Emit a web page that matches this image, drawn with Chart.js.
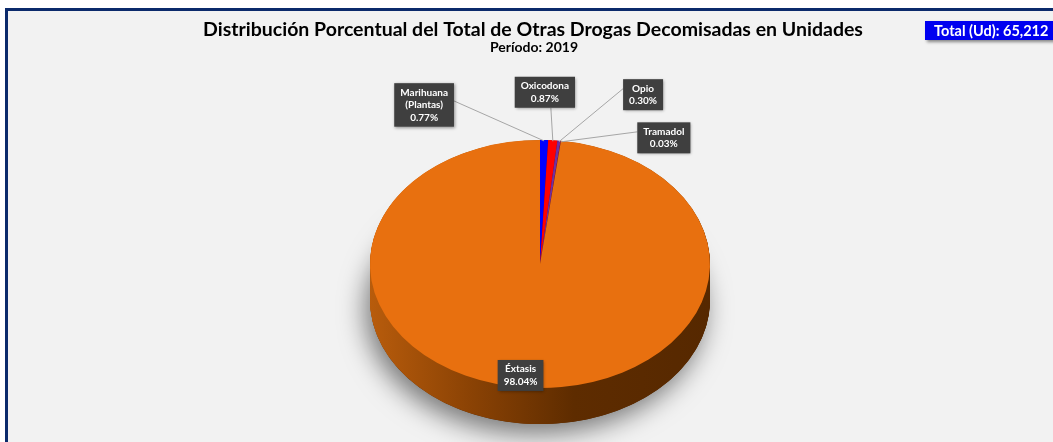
<!DOCTYPE html>
<html>
<head>
<meta charset="utf-8">
<script src="https://cdn.jsdelivr.net/npm/chart.js@4.4.1/dist/chart.umd.min.js"></script>
<style>
  html, body { margin: 0; padding: 0; background: #ffffff; }
  #wrap { width: 1053px; height: 442px; position: relative; }
</style>
</head>
<body>
<div id="wrap"><canvas id="graficoPastel"></canvas></div>
<script>
// datos del gráfico
const categorias = ['Marihuana (Plantas)', 'Oxicodona', 'Opio', 'Tramadol', 'Éxtasis'];
const porcentajes = [0.77, 0.87, 0.30, 0.03, 98.04];
const totalUnidades = 65212;
const tituloTexto = 'Distribución Porcentual del Total de Otras Drogas Decomisadas en Unidades';
const subtituloTexto = 'Período: 2019';

// estilo
const coloresCara = ['#0000ff', '#ff0000', '#7030a0', '#c00000', '#e8700f'];
const coloresLado = ['#00007a', '#7a0000', '#3a1656', '#600000', '#6a3000'];
const desplazamientoEtiquetas = [[-120, -35], [-8, -48], [84, -46], [103, -3], null];
const INCLINACION = 0.73; // relación alto/ancho de la elipse
const PROFUNDIDAD = 36;   // grosor del pastel en px

const fuente = 'Lato, "Open Sans", sans-serif';

// fondo, borde, título y caja del total
const fondo = {
    id: 'fondo',
    beforeDraw(chart) {
        const ctx = chart.ctx;
        ctx.save();
        ctx.fillStyle = '#ffffff';
        ctx.fillRect(0, 0, chart.width, chart.height);
        ctx.fillStyle = '#f2f2f2';
        ctx.fillRect(8, 10, chart.width, chart.height);
        ctx.fillStyle = '#0b2a6b';
        ctx.fillRect(5, 8, chart.width, 3);
        ctx.fillRect(5, 8, 3, chart.height);

        ctx.fillStyle = '#000000';
        ctx.textAlign = 'center';
        ctx.textBaseline = 'middle';
        ctx.font = 'bold 19.5px ' + fuente;
        ctx.fillText(tituloTexto, 533, 30);
        ctx.font = 'bold 14px ' + fuente;
        ctx.fillText(subtituloTexto, 534, 47);

        // caja del total
        ctx.save();
        ctx.shadowColor = 'rgba(0,0,0,0.45)';
        ctx.shadowBlur = 3;
        ctx.shadowOffsetX = 2;
        ctx.shadowOffsetY = 2;
        ctx.fillStyle = '#0000f0';
        ctx.fillRect(925, 21, 140, 19);
        ctx.restore();
        ctx.fillStyle = '#ffffff';
        ctx.textAlign = 'left';
        ctx.font = 'bold 14.5px ' + fuente;
        ctx.fillText('Total (Ud): ' + totalUnidades.toLocaleString('en-US'), 934, 31);
        ctx.restore();
    }
};

// efecto 3D: se aplasta el pastel y se dibuja el costado
const pastel3d = {
    id: 'pastel3d',
    beforeDatasetsDraw(chart) {
        const ctx = chart.ctx;
        const arcos = chart.getDatasetMeta(0).data;
        const cx = arcos[0].x, cy = arcos[0].y, r = arcos[0].outerRadius;
        ctx.save();
        ctx.translate(cx, cy);
        ctx.scale(1, INCLINACION);
        ctx.translate(-cx, -cy);
        const prof = PROFUNDIDAD / INCLINACION;

        // sombra
        ctx.save();
        ctx.shadowColor = 'rgba(0,0,0,0.5)';
        ctx.shadowBlur = 26;
        ctx.shadowOffsetX = -5;
        ctx.shadowOffsetY = 10;
        ctx.beginPath();
        ctx.arc(cx, cy + prof, r, 0, Math.PI * 2);
        ctx.fillStyle = '#5a2a00';
        ctx.fill();
        ctx.restore();

        const grad = ctx.createLinearGradient(cx - r, 0, cx + r, 0);
        grad.addColorStop(0, '#b85c0c');
        grad.addColorStop(0.3, '#8a4204');
        grad.addColorStop(0.6, '#5e2c00');
        grad.addColorStop(1, '#562800');

        for (let d = prof; d > 0; d -= 0.7) {
            arcos.forEach((a, i) => {
                ctx.beginPath();
                ctx.moveTo(cx, cy + d);
                ctx.arc(cx, cy + d, r, a.startAngle, a.endAngle);
                ctx.closePath();
                ctx.fillStyle = i === arcos.length - 1 ? grad : coloresLado[i];
                ctx.fill();
            });
        }
    },
    afterDatasetsDraw(chart) {
        chart.ctx.restore();
    }
};

// etiquetas con líneas guía
const etiquetas = {
    id: 'etiquetas',
    afterDraw(chart) {
        const ctx = chart.ctx;
        const arcos = chart.getDatasetMeta(0).data;
        ctx.save();
        ctx.font = 'bold 10px ' + fuente;
        ctx.textAlign = 'center';
        ctx.textBaseline = 'middle';
        arcos.forEach((a, i) => {
            const medio = (a.startAngle + a.endAngle) / 2;
            const r = a.outerRadius;
            const lineas = categorias[i].replace(' (', '\n(').split('\n');
            lineas.push(porcentajes[i].toFixed(2) + '%');
            const ancho = Math.max(...lineas.map(l => ctx.measureText(l).width)) + 12;
            const alto = lineas.length * 12.5 + 6;
            let bx, by;
            const off = desplazamientoEtiquetas[i];
            if (off) {
                const ax = a.x + r * Math.cos(medio);
                const ay = a.y + INCLINACION * r * Math.sin(medio);
                bx = ax + off[0];
                by = ay + off[1];
                let ex, ey;
                if (off[0] < -40) { ex = bx + ancho / 2; ey = by - 4; }
                else if (off[0] > 40) { ex = bx - ancho / 2; ey = by - 6; }
                else { ex = ax - 2; ey = by + alto / 2; }
                ctx.strokeStyle = '#a6a6a6';
                ctx.lineWidth = 1;
                ctx.beginPath();
                ctx.moveTo(ax, ay + 1);
                ctx.lineTo(ex, ey);
                ctx.stroke();
            } else {
                bx = a.x + 0.9 * r * Math.cos(medio) - 10;
                by = a.y + INCLINACION * 0.9 * r * Math.sin(medio);
            }
            ctx.save();
            ctx.shadowColor = 'rgba(0,0,0,0.4)';
            ctx.shadowBlur = 3;
            ctx.shadowOffsetX = 1;
            ctx.shadowOffsetY = 1;
            ctx.fillStyle = '#3f3f3f';
            ctx.fillRect(bx - ancho / 2, by - alto / 2, ancho, alto);
            ctx.restore();
            ctx.fillStyle = '#ffffff';
            lineas.forEach((l, k) => {
                ctx.fillText(l, bx, by - (lineas.length - 1) * 6.25 + k * 12.5);
            });
        });
        ctx.restore();
    }
};

const ctx = document.getElementById('graficoPastel').getContext('2d');
const graficoPastel = new Chart(ctx, {
    type: 'pie',
    data: {
        labels: categorias,
        datasets: [{
            data: porcentajes,
            backgroundColor: coloresCara,
            borderWidth: 0
        }]
    },
    options: {
        responsive: true,
        maintainAspectRatio: false,
        animation: false,
        events: [],
        layout: {
            padding: { left: 370, right: 343, top: 94, bottom: 8 }
        },
        plugins: {
            legend: { display: false },
            tooltip: { enabled: false },
            title: { display: false }
        }
    },
    plugins: [fondo, pastel3d, etiquetas]
});
</script>
</body>
</html>
